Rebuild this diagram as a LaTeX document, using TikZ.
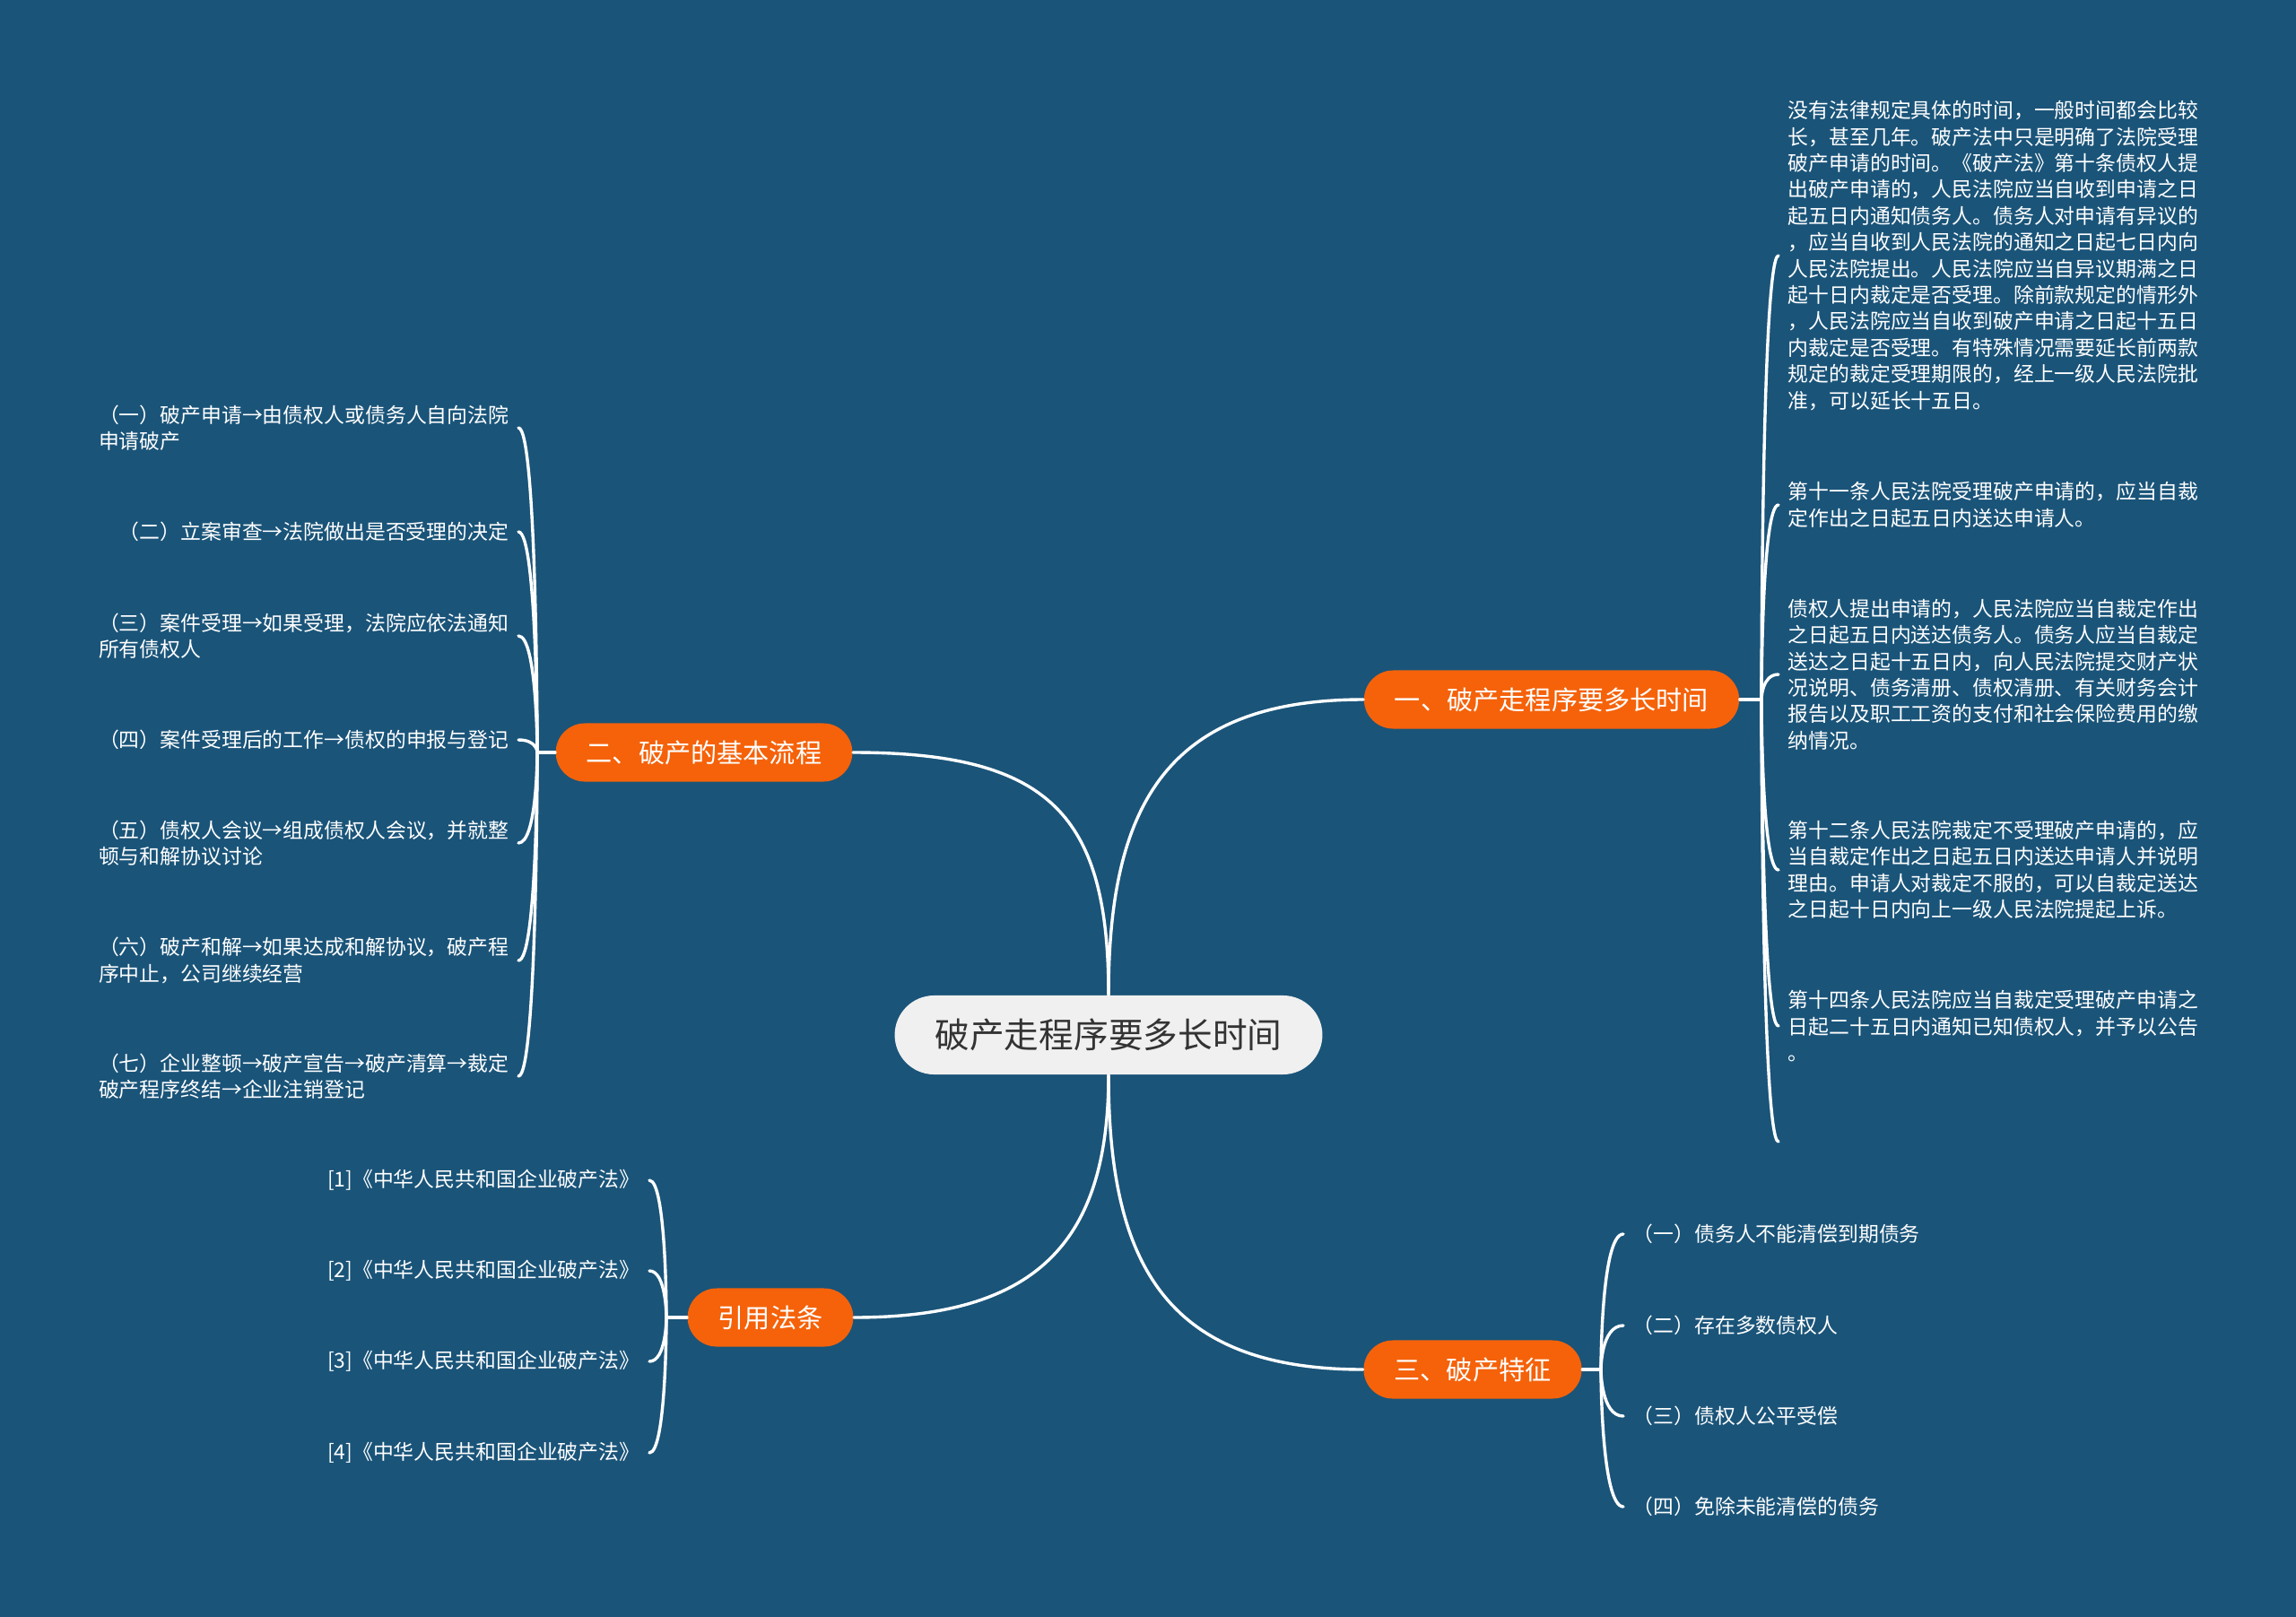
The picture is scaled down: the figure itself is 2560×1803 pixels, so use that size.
\documentclass[tikz,border=0pt]{standalone}
\usepackage{fontspec}
\setmainfont{Noto Sans CJK SC}
\usetikzlibrary{positioning,calc}
\definecolor{Sea}{HTML}{1A5479}
\definecolor{Flame}{HTML}{F5620A}
\definecolor{Paper}{HTML}{F0F0F0}
\definecolor{Coal}{HTML}{333333}
\newcommand{\LeafR}[3]{%
  \node[leaf,anchor=west] (#1) at (1983,#2) {#3};%
}
\newcommand{\LeafL}[4]{%
  \node[leaf,anchor=east] (#1) at (#2,#3) {#4};%
}
\newcommand{\Hook}[3]{%
  \draw[link] (#1) .. controls (#1) and (#1 |- #2.#3) .. (#2.#3);%
}

\begin{document}
\begin{tikzpicture}[x=0.01cm,y=-0.01cm,
  link/.style={draw=white,line width=0.034cm,line cap=round},
  leaf/.style={text=white,align=left,inner xsep=0.1cm,inner ysep=0pt,
    font=\fontsize{6.5}{8.36}\selectfont},
  topic/.style={fill=Flame,text=white,rounded corners=0.325cm,minimum height=0.65cm,
    inner xsep=0.34cm,font=\fontsize{8.3}{10}\selectfont},
  core/.style={fill=Paper,text=Coal,rounded corners=0.44cm,minimum height=0.88cm,
    inner xsep=0.45cm,font=\fontsize{11}{13}\selectfont}]
\useasboundingbox (0,0) rectangle (2560,1803);
\fill[Sea] (0,0) rectangle (2560,1803);

\node[core] (root) at (1236,1154) {破产走程序要多长时间};
\node[topic] (time) at (1730,780) {一、破产走程序要多长时间};
\node[topic] (flow) at (785,839) {二、破产的基本流程};
\node[topic] (trait) at (1642,1527) {三、破产特征};
\node[topic] (law) at (859,1469) {引用法条};

\draw[link] (root.north) .. controls +(0,-210) and +(-220,0) .. (time.west);
\draw[link] (root.north) .. controls +(0,-200) and +(220,0) .. (flow.east);
\draw[link] (root.south) .. controls +(0,210) and +(-220,0) .. (trait.west);
\draw[link] (root.south) .. controls +(0,190) and +(200,0) .. (law.east);

\coordinate (jtime) at (1964,780);
\coordinate (jflow) at (599,839);
\coordinate (jtrait) at (1785,1527);
\coordinate (jlaw) at (743,1469);
\draw[link] (time.east) -- (jtime);
\draw[link] (flow.west) -- (jflow);
\draw[link] (trait.east) -- (jtrait);
\draw[link] (law.west) -- (jlaw);

% 一、破产走程序要多长时间
\LeafR{t1}{285}{没有法律规定具体的时间，一般时间都会比较\\长，甚至几年。破产法中只是明确了法院受理\\破产申请的时间。《破产法》第十条债权人提\\出破产申请的，人民法院应当自收到申请之日\\起五日内通知债务人。债务人对申请有异议的\\，应当自收到人民法院的通知之日起七日内向\\人民法院提出。人民法院应当自异议期满之日\\起十日内裁定是否受理。除前款规定的情形外\\，人民法院应当自收到破产申请之日起十五日\\内裁定是否受理。有特殊情况需要延长前两款\\规定的裁定受理期限的，经上一级人民法院批\\准，可以延长十五日。}
\LeafR{t2}{563}{第十一条人民法院受理破产申请的，应当自裁\\定作出之日起五日内送达申请人。}
\LeafR{t3}{752}{债权人提出申请的，人民法院应当自裁定作出\\之日起五日内送达债务人。债务人应当自裁定\\送达之日起十五日内，向人民法院提交财产状\\况说明、债务清册、债权清册、有关财务会计\\报告以及职工工资的支付和社会保险费用的缴\\纳情况。}
\LeafR{t4}{970}{第十二条人民法院裁定不受理破产申请的，应\\当自裁定作出之日起五日内送达申请人并说明\\理由。申请人对裁定不服的，可以自裁定送达\\之日起十日内向上一级人民法院提起上诉。}
\LeafR{t5}{1144}{第十四条人民法院应当自裁定受理破产申请之\\日起二十五日内通知已知债权人，并予以公告\\。}
\coordinate (t6) at (1983,1273);
\foreach \c in {t1,t2,t3,t4,t5} {\Hook{jtime}{\c}{west}}
\draw[link] (jtime) .. controls (jtime) and (jtime |- t6) .. (t6);

% 二、破产的基本流程
\LeafL{f1}{578}{477}{（一）破产申请→由债权人或债务人自向法院\\申请破产}
\LeafL{f2}{578}{593}{（二）立案审查→法院做出是否受理的决定}
\LeafL{f3}{578}{709}{（三）案件受理→如果受理，法院应依法通知\\所有债权人}
\LeafL{f4}{578}{825}{（四）案件受理后的工作→债权的申报与登记}
\LeafL{f5}{578}{940}{（五）债权人会议→组成债权人会议，并就整\\顿与和解协议讨论}
\LeafL{f6}{578}{1071}{（六）破产和解→如果达成和解协议，破产程\\序中止，公司继续经营}
\LeafL{f7}{578}{1200}{（七）企业整顿→破产宣告→破产清算→裁定\\破产程序终结→企业注销登记}
\foreach \c in {f1,f2,f3,f4,f5,f6,f7} {\Hook{jflow}{\c}{east}}

% 三、破产特征
\node[leaf,anchor=west] (c1) at (1810,1376) {（一）债务人不能清偿到期债务};
\node[leaf,anchor=west] (c2) at (1810,1478) {（二）存在多数债权人};
\node[leaf,anchor=west] (c3) at (1810,1579) {（三）债权人公平受偿};
\node[leaf,anchor=west] (c4) at (1810,1680) {（四）免除未能清偿的债务};
\foreach \c in {c1,c2,c3,c4} {\Hook{jtrait}{\c}{west}}

% 引用法条
\foreach \n/\y in {1/1316,2/1417,3/1518,4/1620} {
  \LeafL{r\n}{724}{\y}{[\n]《中华人民共和国企业破产法》}
  \Hook{jlaw}{r\n}{east}
}
\end{tikzpicture}
\end{document}
